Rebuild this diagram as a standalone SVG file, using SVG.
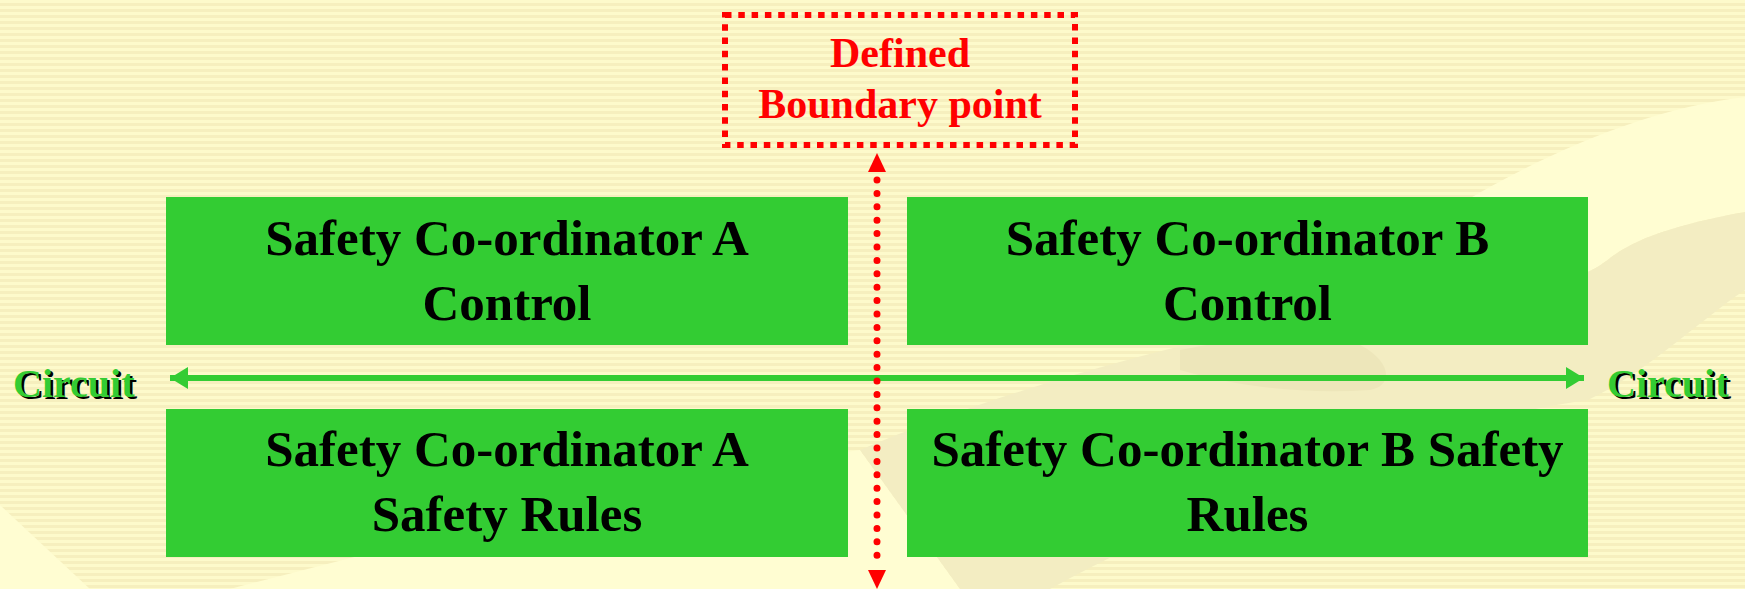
<svg xmlns="http://www.w3.org/2000/svg" width="1745" height="589" viewBox="0 0 1745 589">
  <style>
    .box { fill: #33CC33; }
    .lbl { font-family: "Liberation Serif", "Times New Roman", serif; font-weight: bold; font-size: 51px; fill: #000; text-anchor: middle; }
    .red { font-family: "Liberation Serif", "Times New Roman", serif; font-weight: bold; font-size: 42px; fill: #FF0000; text-anchor: middle; }
    .circ { font-family: "Liberation Serif", "Times New Roman", serif; font-weight: bold; font-size: 40px; }
    .circ-sh { fill: #000; }
    .circ-fg { fill: #33CC33; }
  </style>
  <defs>
    <pattern id="stripes" width="8" height="6" patternUnits="userSpaceOnUse">
      <rect width="8" height="6" fill="#FDFACB"/>
      <rect y="3" width="8" height="3" fill="#F6EFBE"/>
    </pattern>
    <marker id="gArrow" viewBox="0 0 18 22" refX="18" refY="11" markerWidth="18" markerHeight="22" markerUnits="userSpaceOnUse" orient="auto-start-reverse">
      <path d="M0,0 L18,11 L0,22 Z" fill="#33CC33"/>
    </marker>
  </defs>

  <!-- background -->
  <rect width="1745" height="589" fill="url(#stripes)"/>
  <path d="M0,505 L90,589 L0,589 Z" fill="#FFFDD2"/>
  <path d="M1450,210 C1550,150 1650,108 1745,97 L1745,212 C1690,222 1640,235 1610,258 C1590,275 1560,285 1520,282 L1450,282 Z" fill="#FFFDD2"/>
  <path d="M230,589 C420,540 650,480 860,450 L960,589 Z" fill="#FFFDD2"/>
  <path d="M1745,212 C1690,222 1640,235 1610,258 C1590,275 1560,285 1520,282 C1300,310 1050,370 860,450 L960,589 L1050,589 C1250,480 1450,420 1588,400 C1650,370 1700,320 1745,290 Z" fill="#F3EDC2"/>
  <path d="M1180,350 C1250,335 1320,335 1360,345 C1390,360 1395,385 1370,390 C1300,395 1230,385 1180,370 Z" fill="#EDE6BA"/>

  <!-- connectors -->
  <g id="connectors">
    <line x1="170" y1="378" x2="1584" y2="378" stroke="#33CC33" stroke-width="6" marker-start="url(#gArrow)" marker-end="url(#gArrow)"/>
    <line x1="877" y1="180" x2="877" y2="566" stroke="#FF0000" stroke-width="7" stroke-linecap="round" stroke-dasharray="0 13.4"/>
    <path d="M877,153 L868,172 L886,172 Z" fill="#FF0000"/>
    <path d="M877,589 L868,570 L886,570 Z" fill="#FF0000"/>
  </g>

  <g id="boundary">
    <rect x="725" y="15" width="350" height="130" fill="none" stroke="#FF0000" stroke-width="6" stroke-dasharray="6.5 6.8"/>
    <text class="red" x="900" y="67">Defined</text>
    <text class="red" x="900" y="118">Boundary point</text>
  </g>

  <g id="coordA-control">
    <rect class="box" x="166" y="197" width="682" height="148"/>
    <text class="lbl" x="507" y="255">Safety Co-ordinator A</text>
    <text class="lbl" x="507" y="320">Control</text>
  </g>

  <g id="coordB-control">
    <rect class="box" x="907" y="197" width="681" height="148"/>
    <text class="lbl" x="1247.5" y="255">Safety Co-ordinator B</text>
    <text class="lbl" x="1247.5" y="320">Control</text>
  </g>

  <g id="coordA-rules">
    <rect class="box" x="166" y="409" width="682" height="148"/>
    <text class="lbl" x="507" y="466">Safety Co-ordinator A</text>
    <text class="lbl" x="507" y="531">Safety Rules</text>
  </g>

  <g id="coordB-rules">
    <rect class="box" x="907" y="409" width="681" height="148"/>
    <text class="lbl" x="1247.5" y="466">Safety Co-ordinator B Safety</text>
    <text class="lbl" x="1247.5" y="531">Rules</text>
  </g>

  <g id="circuit-left">
    <text class="circ circ-sh" x="15.5" y="399">Circuit</text>
    <text class="circ circ-fg" x="13" y="396.5">Circuit</text>
  </g>
  <g id="circuit-right">
    <text class="circ circ-sh" x="1609.5" y="399">Circuit</text>
    <text class="circ circ-fg" x="1607" y="396.5">Circuit</text>
  </g>
</svg>
